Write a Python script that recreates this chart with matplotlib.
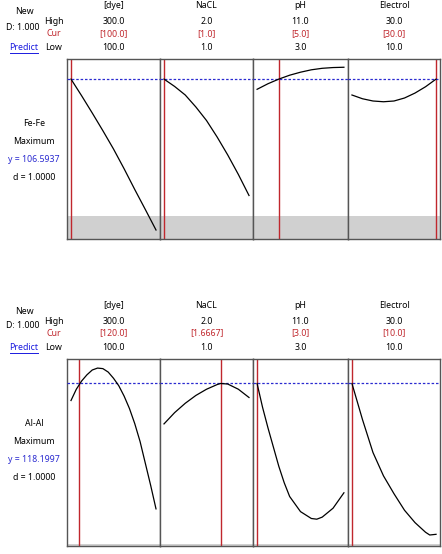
import matplotlib
matplotlib.use("Agg")
import matplotlib.pyplot as plt

W, H = 442, 554
plt.rcParams['font.family'] = ['Noto Sans', 'DejaVu Sans']

factors = ["[dye]", "NaCL", "pH", "Electrol"]
highs = ["300.0", "2.0", "11.0", "30.0"]
lows = ["100.0", "1.0", "3.0", "10.0"]
ranges = [(100, 300), (1.0, 2.0), (3.0, 11.0), (10.0, 30.0)]

# Response 1: Fe-Fe
fe_cur = ["[100.0]", "[1.0]", "[5.0]", "[30.0]"]
fe_cur_vals = [100.0, 1.0, 5.0, 30.0]
fe_y = 106.5937
fe_lower = 15.3
fe_dye_x = [100, 125, 150, 175, 200, 225, 250, 275, 300]
fe_dye_y = [106.6, 95.5, 84.0, 72.2, 60.0, 46.8, 33.0, 19.6, 6.0]
fe_nacl_x = [1.0, 1.125, 1.25, 1.375, 1.5, 1.625, 1.75, 1.875, 2.0]
fe_nacl_y = [106.6, 101.7, 96.0, 88.0, 79.0, 68.0, 56.0, 43.0, 29.0]
fe_ph_x = [3, 4, 5, 6, 7, 8, 9, 10, 11]
fe_ph_y = [99.8, 103.5, 106.6, 109.2, 111.2, 112.8, 113.8, 114.3, 114.5]
fe_el_x = [10, 12.5, 15, 17.5, 20, 22.5, 25, 27.5, 30]
fe_el_y = [96.0, 93.5, 92.0, 91.5, 92.0, 94.0, 97.3, 101.5, 106.6]

# Response 2: Al-Al
al_cur = ["[120.0]", "[1.6667]", "[3.0]", "[10.0]"]
al_cur_vals = [120.0, 1.6667, 3.0, 10.0]
al_y = 118.1997
al_lower = 1.2
al_dye_x = [100, 112.5, 125, 137.5, 150, 162.5, 175, 187.5, 200, 212.5, 225, 237.5, 250, 262.5, 275, 287.5, 300]
al_dye_y = [105.8, 114.0, 120.0, 124.5, 128.0, 129.4, 129.0, 126.5, 122.0, 116.5, 109.0, 100.0, 89.0, 76.0, 60.0, 44.0, 27.0]
al_nacl_x = [1.0, 1.125, 1.25, 1.375, 1.5, 1.625, 1.6667, 1.75, 1.875, 2.0]
al_nacl_y = [88.8, 97.0, 103.8, 109.5, 114.0, 117.4, 118.2, 117.8, 114.0, 108.0]
al_ph_x = [3, 3.5, 4, 4.5, 5, 5.5, 6, 7, 8, 8.5, 9, 10, 11]
al_ph_y = [118.2, 101.0, 86.0, 72.0, 58.0, 46.0, 36.0, 25.0, 20.0, 19.5, 21.0, 27.5, 38.7]
al_el_x = [10, 12.5, 15, 17.5, 20, 22.5, 25, 27.5, 28.5, 30]
al_el_y = [118.2, 92.0, 68.0, 51.0, 38.0, 26.0, 17.0, 10.0, 8.0, 8.5]

fig = plt.figure(figsize=(W / 100, H / 100), dpi=100)

def fx(px):
    return px / W

def fy(py):
    return 1 - py / H

FS = 6.3
RED = '#c0272d'
BLUE = '#2a2ad0'

def block(top, bottom, ylim, curves, curs, cur_vals, yval, lower, name, hdr_y):
    xs = [67, 160, 253, 348, 440]
    for i in range(4):
        ax = fig.add_axes([fx(xs[i]), fy(bottom), fx(xs[i + 1] - xs[i]), (bottom - top) / H])
        lo, hi = ranges[i]
        m = 0.047 * (hi - lo)
        ax.set_xlim(lo - m, hi + m)
        ax.set_ylim(*ylim)
        ax.set_xticks([])
        ax.set_yticks([])
        for s in ax.spines.values():
            s.set_color('#555555')
            s.set_linewidth(1.0)
        ax.axhspan(ylim[0], lower, color='#d0d0d0', lw=0, zorder=0)
        ax.axvline(cur_vals[i], color=RED, lw=1.0, zorder=2)
        ax.axhline(yval, color=BLUE, lw=0.9, ls=(0, (2, 1.5)), zorder=3)
        cx, cy = curves[i]
        ax.plot(cx, cy, color='black', lw=0.9, zorder=4)
        cxp = (xs[i] + xs[i + 1]) / 2
        y0, y1, y2, y3 = hdr_y
        fig.text(fx(cxp), fy(y0), factors[i], ha='center', va='center', fontsize=FS)
        fig.text(fx(cxp), fy(y1), highs[i], ha='center', va='center', fontsize=FS)
        fig.text(fx(cxp), fy(y2), curs[i], ha='center', va='center', fontsize=FS, color=RED)
        fig.text(fx(cxp), fy(y3), lows[i], ha='center', va='center', fontsize=FS)
    # left header
    y0, y1, y2, y3 = hdr_y
    fig.text(fx(24), fy(y0 + 5), "New", ha='center', va='center', fontsize=FS)
    fig.text(fx(23), fy(y1 + 5), "D: 1.000", ha='center', va='center', fontsize=FS)
    fig.text(fx(24), fy(y3), "Predict", ha='center', va='center', fontsize=FS, color='#1a1adf')
    fig.add_artist(plt.Line2D([fx(10), fx(38)], [fy(y3 + 6), fy(y3 + 6)], color='#1a1adf', lw=0.7))
    fig.text(fx(54), fy(y1), "High", ha='center', va='center', fontsize=FS)
    fig.text(fx(54), fy(y2), "Cur", ha='center', va='center', fontsize=FS, color=RED)
    fig.text(fx(54), fy(y3), "Low", ha='center', va='center', fontsize=FS)
    # response labels
    mid = top + 64
    fig.text(fx(34), fy(mid), name, ha='center', va='center', fontsize=FS)
    fig.text(fx(34), fy(mid + 18), "Maximum", ha='center', va='center', fontsize=FS)
    fig.text(fx(34), fy(mid + 36), "y = %.4f" % yval, ha='center', va='center', fontsize=FS, color=BLUE)
    fig.text(fx(34), fy(mid + 54), "d = 1.0000", ha='center', va='center', fontsize=FS)

block(59, 239, (0, 120),
      [(fe_dye_x, fe_dye_y), (fe_nacl_x, fe_nacl_y), (fe_ph_x, fe_ph_y), (fe_el_x, fe_el_y)],
      fe_cur, fe_cur_vals, fe_y, fe_lower, "Fe-Fe", (6, 22, 34, 47))
block(359, 546, (0, 136),
      [(al_dye_x, al_dye_y), (al_nacl_x, al_nacl_y), (al_ph_x, al_ph_y), (al_el_x, al_el_y)],
      al_cur, al_cur_vals, al_y, al_lower, "Al-Al", (306, 321, 333, 347))

fig.savefig("out.png", dpi=100)
